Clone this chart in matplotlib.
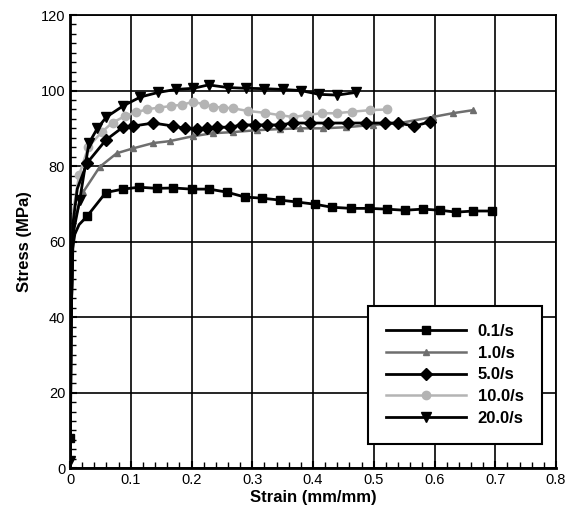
import numpy as np
import matplotlib.pyplot as plt
from matplotlib.ticker import MultipleLocator

plt.rcParams['font.family'] = ['Liberation Sans', 'DejaVu Sans']

# strain (mm/mm) / stress (MPa) for each strain rate
x_01 = [0, 0.0005, 0.002, 0.004, 0.008, 0.015, 0.028, 0.059, 0.087, 0.114, 0.143, 0.17, 0.2, 0.229,
        0.258, 0.288, 0.316, 0.345, 0.373, 0.403, 0.431, 0.462, 0.492, 0.521, 0.551, 0.581,
        0.609, 0.636, 0.664, 0.694]
y_01 = [0, 8, 40, 58, 62, 64.5, 66.7, 73.0, 73.9, 74.4, 74.1, 74.2, 73.9, 73.9,
        73.1, 71.8, 71.5, 71.0, 70.5, 69.9, 69.1, 68.8, 68.8, 68.6, 68.3, 68.6,
        68.3, 67.8, 68.1, 68.1]

x_1 = [0, 0.002, 0.006, 0.022, 0.049, 0.077, 0.104, 0.137, 0.164, 0.202, 0.235, 0.268, 0.307,
       0.345, 0.378, 0.416, 0.455, 0.498, 0.543, 0.597, 0.63, 0.663]
y_1 = [0, 40, 65, 73.2, 79.8, 83.4, 84.7, 86.1, 86.6, 87.9, 88.7, 89.0, 89.5,
       89.8, 90.0, 90.0, 90.3, 90.9, 91.4, 93.0, 94.0, 94.8]

x_5 = [0, 0.002, 0.005, 0.012, 0.028, 0.059, 0.087, 0.104, 0.137, 0.17, 0.189, 0.209, 0.225,
       0.242, 0.263, 0.283, 0.304, 0.324, 0.345, 0.367, 0.395, 0.424, 0.457, 0.488, 0.518,
       0.54, 0.567, 0.592]
y_5 = [0, 40, 65, 74, 80.8, 86.9, 90.3, 90.6, 91.4, 90.6, 90.0, 89.8, 90.0,
       90.3, 90.3, 90.9, 90.9, 90.9, 90.9, 91.4, 91.4, 91.4, 91.4, 91.4, 91.4,
       91.4, 90.6, 91.7]

x_10 = [0, 0.002, 0.005, 0.015, 0.03, 0.052, 0.07, 0.09, 0.108, 0.126, 0.146, 0.167, 0.185,
        0.203, 0.22, 0.236, 0.252, 0.268, 0.293, 0.321, 0.345, 0.367, 0.39, 0.414, 0.439,
        0.464, 0.493, 0.521]
y_10 = [0, 40, 68, 77.6, 85, 89, 91.5, 93.2, 94.2, 95.0, 95.5, 95.9, 96.3,
        97.0, 96.4, 95.7, 95.5, 95.3, 94.6, 94.1, 93.5, 93.0, 93.5, 94.0, 94.0,
        94.4, 94.8, 95.0]

x_20 = [0, 0.0005, 0.002, 0.005, 0.016, 0.031, 0.045, 0.06, 0.088, 0.116, 0.145, 0.174, 0.203,
        0.228, 0.26, 0.29, 0.32, 0.35, 0.38, 0.41, 0.44, 0.47]
y_20 = [0, 2, 40, 62, 71, 86, 90, 93, 96, 98.3, 99.5, 100.3, 100.6,
        101.5, 100.8, 100.6, 100.5, 100.3, 100.0, 99.0, 98.8, 99.5]

labels = ['0.1/s', '1.0/s', '5.0/s', '10.0/s', '20.0/s']
x_ticklabels = ['0', '0.1', '0.2', '0.3', '0.4', '0.5', '0.6', '0.7', '0.8']

fig = plt.figure(figsize=(5.81, 5.19), dpi=100)
ax = fig.add_axes([0.1205, 0.098, 0.8365, 0.873])

ax.plot(x_01, y_01, color='black', lw=2.0, marker='s', ms=6,
        markevery=[1] + list(range(6, len(x_01))), label=labels[0], zorder=5)
ax.plot(x_1, y_1, color='#6e6e6e', lw=1.8, marker='^', ms=5,
        markevery=list(range(3, len(x_1))), label=labels[1], zorder=3)
ax.plot(x_5, y_5, color='black', lw=2.0, marker='D', ms=6,
        markevery=list(range(4, len(x_5))), label=labels[2], zorder=4)
ax.plot(x_10, y_10, color='#b4b4b4', lw=1.8, marker='o', ms=6,
        markevery=list(range(3, len(x_10))), label=labels[3], zorder=2)
ax.plot(x_20, y_20, color='black', lw=2.0, marker='v', ms=7,
        markevery=[1] + list(range(4, len(x_20))), label=labels[4], zorder=6)

ax.set_xlim(0, 0.8)
ax.set_ylim(0, 120)
ax.xaxis.set_major_locator(MultipleLocator(0.1))
ax.xaxis.set_minor_locator(MultipleLocator(0.02))
ax.yaxis.set_major_locator(MultipleLocator(20))
ax.yaxis.set_minor_locator(MultipleLocator(2.5))
ax.set_xticks(np.arange(0, 0.81, 0.1))
ax.set_xticklabels(x_ticklabels)
ax.tick_params(which='both', direction='in', labelsize=10.5, top=False, right=False)
ax.tick_params(which='major', length=5, width=1.5)
ax.tick_params(which='minor', length=4, width=1.0)

ax.grid(True, which='major', color='black', lw=1.2)
for side in ['left', 'bottom']:
    ax.spines[side].set_linewidth(2.0)
for side in ['top', 'right']:
    ax.spines[side].set_linewidth(1.3)

ax.set_xlabel('Strain (mm/mm)', fontsize=12, fontweight='bold', labelpad=2)
ax.set_ylabel('Stress (MPa)', fontsize=12, fontweight='bold', labelpad=6)

leg = ax.legend(loc='lower right', bbox_to_anchor=(0.971, 0.053), handlelength=4.8,
                handletextpad=0.7, fancybox=False, framealpha=1, edgecolor='black',
                borderpad=1.1, borderaxespad=0, labelspacing=0.4,
                prop={'weight': 'bold', 'size': 12})
leg.get_frame().set_linewidth(1.5)
leg.set_zorder(10)

fig.savefig('out.png', dpi=100)
